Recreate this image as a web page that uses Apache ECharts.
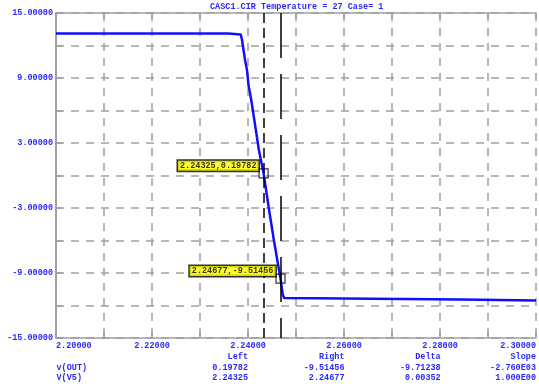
<!DOCTYPE html>
<html>
<head>
<meta charset="utf-8">
<script src="https://cdn.jsdelivr.net/npm/echarts@6/dist/echarts.min.js"></script>
<style>html,body{margin:0;padding:0;background:#fff;}#c{width:539px;height:387px;}</style>
</head>
<body>
<div id="c"></div>
<script>
// ---- data ----
const titleText = 'CASC1.CIR Temperature = 27 Case= 1';
const xs = [2.2, 2.23588, 2.23598, 2.23849, 2.23876, 2.23907, 2.23938, 2.23979, 2.24010, 2.24068, 2.24227, 2.24325, 2.24433, 2.24542, 2.24677, 2.24722, 2.24753, 2.24794, 2.28447, 2.28464, 2.30];
const ys = [13.10, 13.10, 13.02, 13.02, 12.51, 11.58, 10.66, 9.74, 8.35, 6.97, 2.35, 0.19782, -3.0, -6.05, -9.51456, -10.95, -11.31, -11.45, -11.45, -11.53, -11.53];
const cursorX = [2.24325, 2.24677];
const cursorY = [0.19782, -9.51456];
const cursorLabels = ['2.24325,0.19782', '2.24677,-9.51456'];
const tableHeaders = ['Left', 'Right', 'Delta', 'Slope'];
const rowNames = ['v(OUT)', 'V(V5)'];
const rowOut = ['0.19782', '-9.51456', '-9.71238', '-2.760E03'];
const rowV5 = ['2.24325', '2.24677', '0.00352', '1.000E00'];

// ---- styling ----
const FONT = 'Liberation Mono';
const FS = 8.5;
const BLUE_TXT = '#2a2aff';
const GRAY = '#a0a0a0';

const chart = echarts.init(document.getElementById('c'), null, {renderer: 'canvas'});

const colRight = [248, 344.5, 440.7, 536];
const graphics = [];
const txtFont = `bold ${FS}px "${FONT}"`;
graphics.push({type: 'text', left: 210, top: 2, style: {text: titleText, font: txtFont, fill: BLUE_TXT}});
tableHeaders.forEach((h, i) => graphics.push({type: 'text', x: colRight[i], y: 356.5, style: {text: h, font: txtFont, fill: BLUE_TXT, align: 'right', verticalAlign: 'middle'}}));
const rows = [rowOut, rowV5];
const rowY = [367.8, 377.4];
rows.forEach((r, ri) => {
  graphics.push({type: 'text', x: 56.5, y: rowY[ri], style: {text: rowNames[ri], font: txtFont, fill: BLUE_TXT, align: 'left', verticalAlign: 'middle'}});
  r.forEach((v, i) => graphics.push({type: 'text', x: colRight[i], y: rowY[ri], style: {text: v, font: txtFont, fill: BLUE_TXT, align: 'right', verticalAlign: 'middle'}}));
});

const lineData = xs.map((x, i) => [x, ys[i]]);
const cursorData = cursorX.map((x, i) => ({value: [x, cursorY[i]], label: {formatter: cursorLabels[i]}}));

const axisLabelStyle = {color: BLUE_TXT, fontFamily: FONT, fontWeight: 'bold', fontSize: FS};

chart.setOption({
  animation: false,
  backgroundColor: '#fff',
  grid: {left: 56, top: 13, right: -2, bottom: 49, containLabel: false},
  graphic: graphics,
  xAxis: [{
    type: 'value', min: 2.2, max: 2.3, interval: 0.01,
    axisLine: {show: true, onZero: false, lineStyle: {color: GRAY, width: 1.5}},
    axisTick: {show: true, inside: true, length: 6, lineStyle: {color: GRAY, width: 1.5}},
    splitLine: {show: true, lineStyle: {color: GRAY, width: 1.5, type: [8, 7]}},
    axisLabel: Object.assign({margin: 3, showMinLabel: true, showMaxLabel: true, alignMinLabel: 'left', alignMaxLabel: 'right',
      formatter: v => (Math.round(v * 100) % 2 === 0 ? v.toFixed(5) : '')}, axisLabelStyle)
  }, {
    type: 'value', position: 'top', min: 2.2, max: 2.3, interval: 0.01,
    axisLine: {show: true, onZero: false, lineStyle: {color: GRAY, width: 1.5}},
    axisTick: {show: true, inside: true, length: 6, lineStyle: {color: GRAY, width: 1.5}},
    splitLine: {show: false}, axisLabel: {show: false}
  }],
  yAxis: {
    type: 'value', min: -15, max: 15, interval: 3,
    axisLine: {show: true, onZero: false, lineStyle: {color: GRAY, width: 2}},
    axisTick: {show: true, inside: true, length: 6, lineStyle: {color: GRAY, width: 1.5}},
    splitLine: {show: true, lineStyle: {color: GRAY, width: 1.5, type: [8, 7]}},
    axisLabel: Object.assign({margin: 3, formatter: v => (Math.abs(Math.round(v)) % 6 === 3 ? v.toFixed(5) : '')}, axisLabelStyle)
  },
  series: [{
    type: 'line', data: lineData, showSymbol: false, symbol: 'none',
    lineStyle: {color: '#1010ff', width: 2.5}, z: 3,
    markLine: {
      silent: true, symbol: 'none', label: {show: false},
      data: [
        [{coord: [cursorX[0], 15], lineStyle: {color: '#000', width: 1.5, type: [10, 5]}}, {coord: [cursorX[0], -15]}],
        [{coord: [cursorX[1], 15], lineStyle: {color: '#000', width: 1.5, type: [45, 16]}}, {coord: [cursorX[1], -15]}]
      ]
    }
  }, {
    type: 'scatter', data: cursorData, symbol: 'rect', symbolSize: 9, z: 5,
    itemStyle: {color: 'rgba(0,0,0,0)', borderColor: '#000', borderWidth: 1.2},
    label: {show: true, position: 'left', distance: 0, offset: [0, -7.5],
      backgroundColor: '#ffff00', borderColor: '#000', borderWidth: 1.5, padding: [1, 2, 0, 2],
      color: '#000', fontFamily: FONT, fontWeight: 'bold', fontSize: FS}
  }]
});
</script>
</body>
</html>
